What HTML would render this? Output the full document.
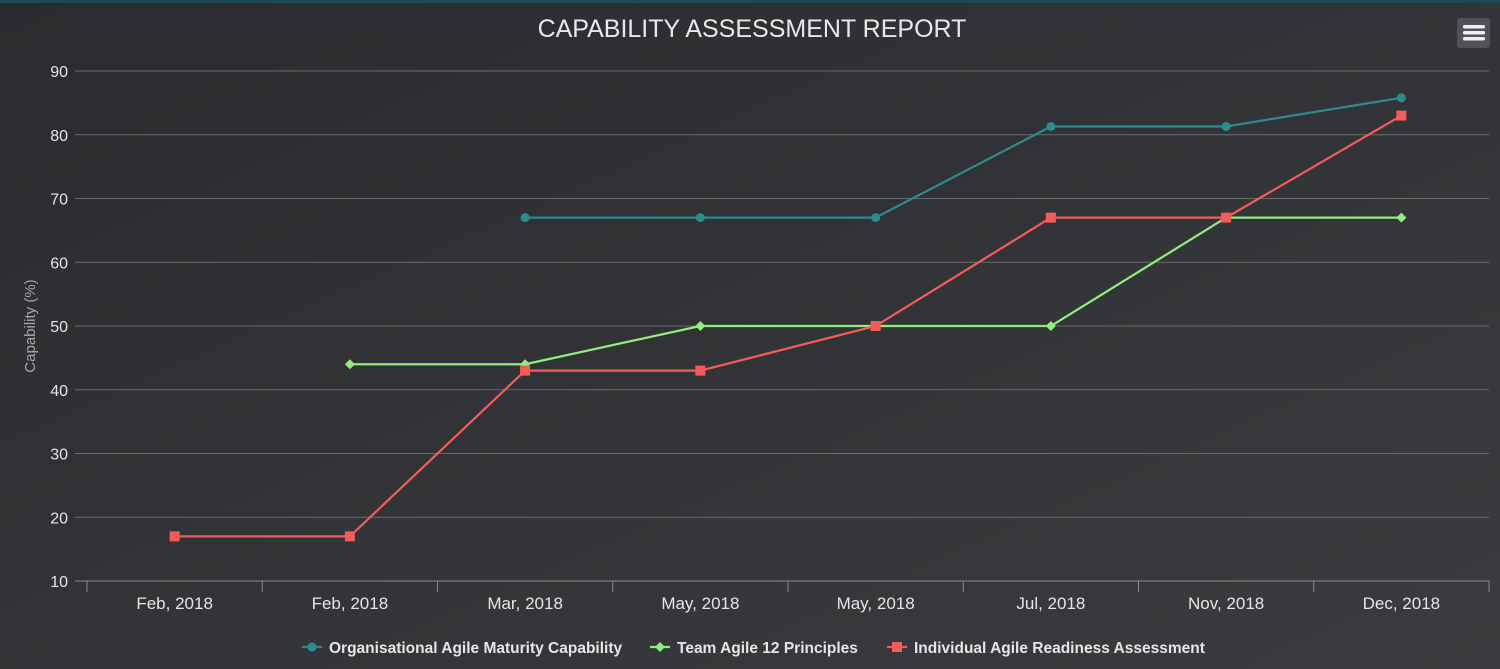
<!DOCTYPE html>
<html><head><meta charset="utf-8"><style>
html,body{margin:0;padding:0;width:1500px;height:669px;overflow:hidden;background:#2d2e31}
svg{display:block}
text{font-family:"Liberation Sans",sans-serif}
</style></head><body>
<svg id="chart" width="1500" height="669">
<defs><linearGradient id="bg" x1="0" y1="0" x2="1" y2="1"><stop offset="0" stop-color="#2a2b2e"/><stop offset="1" stop-color="#3a3c3f"/></linearGradient></defs>
<rect width="1500" height="669" fill="url(#bg)"/>
<rect width="1500" height="3" fill="#1d4a55"/>
<text x="752" y="37" text-anchor="middle" fill="#e8e8e8" font-size="25">CAPABILITY ASSESSMENT REPORT</text>
<g>
<rect x="1457" y="18" width="33" height="30" rx="3" fill="#505256"/>
<rect x="1463" y="25" width="22" height="3.5" rx="1.5" fill="#eee"/>
<rect x="1463" y="31" width="22" height="3.5" rx="1.5" fill="#eee"/>
<rect x="1463" y="37" width="22" height="3.5" rx="1.5" fill="#eee"/>
</g>
<text transform="translate(35,326) rotate(-90)" text-anchor="middle" fill="#a8a8a8" font-size="15">Capability (%)</text>
<g id="grid"></g><g id="series"></g><g id="legend"></g>
</svg>
<script>
const categories=["Feb, 2018","Feb, 2018","Mar, 2018","May, 2018","May, 2018","Jul, 2018","Nov, 2018","Dec, 2018"];
const orgValues=[null,null,67,67,67,81.3,81.3,85.8];
const teamValues=[null,44,44,50,50,50,67,67];
const indivValues=[17,17,43,43,50,67,67,83];
const yTicks=[10,20,30,40,50,60,70,80,90];
const seriesNames=["Organisational Agile Maturity Capability","Team Agile 12 Principles","Individual Agile Readiness Assessment"];
const NS="http://www.w3.org/2000/svg";
const L=87,R=1489,T=71,B=581,ymin=10,ymax=90;
const bw=(R-L)/categories.length;
const xs=i=>L+bw*(i+0.5);
const ys=v=>B-(v-ymin)/(ymax-ymin)*(B-T);
function mk(p,tag,a){const e=document.createElementNS(NS,tag);for(const k in a)e.setAttribute(k,a[k]);p.appendChild(e);return e;}
const g=document.getElementById('grid');
yTicks.forEach(v=>{
 const l=mk(g,'line',{x1:75,x2:R,y1:ys(v),y2:ys(v),stroke:v===10?'#8a8a8a':'#6a6b6e','stroke-width':1});
 
 
 const t=mk(g,'text',{x:68,y:ys(v)+6,'text-anchor':'end',fill:'#e6e6e6','font-size':16});
 t.textContent=v;
 
 
});
for(let i=0;i<=categories.length;i++){
 const l=mk(g,'line',{x1:L+bw*i,x2:L+bw*i,y1:B,y2:B+11,stroke:'#8a8a8a'});
 
 
}
categories.forEach((c,i)=>{
 const t=mk(g,'text',{x:xs(i),y:609,'text-anchor':'middle',fill:'#e6e6e6','font-size':17});
 t.textContent=c;
 
 
});
const sg=document.getElementById('series');
function marker(p,type,x,y,col){
 let e;
 if(type==='circle')e=mk(p,'circle',{cx:x,cy:y,r:4.5,fill:col});
 else if(type==='diamond')e=mk(p,'path',{d:`M${x} ${y-5}L${x+5} ${y}L${x} ${y+5}L${x-5} ${y}Z`,fill:col});
 else e=mk(p,'rect',{x:x-5,y:y-5,width:10,height:10,fill:col});
 return e;
}
function drawSeries(vals,col,type,name){
 const grp=mk(sg,'g',{});
 
 
 let d='';vals.forEach((v,i)=>{if(v==null)return;d+=(d?'L':'M')+xs(i)+' '+ys(v);});
 mk(grp,'path',{d:d,fill:'none',stroke:col,'stroke-width':2.2});
 vals.forEach((v,i)=>{if(v==null)return;
  const m=marker(grp,type,xs(i),ys(v),col);
  
  
 });
}
drawSeries(orgValues,'#2b8c8c','circle','org-maturity-series');
drawSeries(teamValues,'#90ee7e','diamond','team-principles-series');
drawSeries(indivValues,'#f45b5b','square','individual-readiness-series');
const lg=document.getElementById('legend');
const lx=[302,650,887],cols=['#2b8c8c','#90ee7e','#f45b5b'],types=['circle','diamond','square'];
seriesNames.forEach((n,i)=>{
 const e=mk(lg,'g',{});
 
 
 mk(e,'line',{x1:lx[i],x2:lx[i]+20,y1:647,y2:647,stroke:cols[i],'stroke-width':2.2});
 marker(e,types[i],lx[i]+10,647,cols[i]);
 const t=mk(e,'text',{x:lx[i]+27,y:653,fill:'#e6e6e6','font-size':15.5,'font-weight':'bold'});
 t.textContent=n;
});
</script>
</body></html>
